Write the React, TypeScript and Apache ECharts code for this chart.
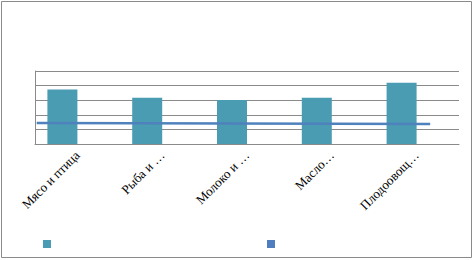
import React, { useEffect, useRef } from "react";
import * as echarts from "echarts";

const categories = ["Мясо и птица", "Рыба и …", "Молоко и …", "Масло…", "Плодоовощ…"];
const barValues = [3.74, 3.17, 3.01, 3.17, 4.2];
const placeholderValues = [null, null, null, null, null];
const lineX = [0.4, 93.2];
const lineY = [1.44, 1.37];
const yMin = 0;
const yMax = 5;
const yInterval = 1;

export default function App() {
  const ref = useRef<HTMLDivElement>(null);
  useEffect(() => {
    document.body.style.margin = "0";
    const chart = echarts.init(ref.current!, null, { renderer: "svg" });
    chart.setOption({
      animation: false,
      backgroundColor: "#ffffff",
      graphic: [
        {
          type: "rect",
          shape: { x: 1.5, y: 1.5, width: 470, height: 256 },
          style: { fill: "none", stroke: "#8a8a8a", lineWidth: 1 },
          silent: true,
        },
      ],
      grid: { left: 35, right: 14, top: 71, bottom: 116 },
      legend: [
        {
          left: 43,
          top: 240,
          padding: 0,
          icon: "rect",
          itemWidth: 8,
          itemHeight: 8,
          data: ["Ряд 1"],
          formatter: () => "",
          selectedMode: false,
        },
        {
          left: 267,
          top: 240,
          padding: 0,
          icon: "rect",
          itemWidth: 8,
          itemHeight: 8,
          data: ["Ряд 2"],
          formatter: () => "",
          selectedMode: false,
        },
      ],
      xAxis: [
        {
          type: "category",
          data: categories,
          axisLine: { show: true, lineStyle: { color: "#8a8a8a", width: 1 } },
          axisTick: { show: false },
          axisLabel: {
            rotate: 45,
            interval: 0,
            margin: 9,
            fontFamily: "Liberation Serif",
            fontSize: 13,
            color: "#000000",
          },
        },
        {
          type: "value",
          min: 0,
          max: 100,
          show: false,
        },
      ],
      yAxis: {
        type: "value",
        min: yMin,
        max: yMax,
        interval: yInterval,
        axisLine: { show: true, lineStyle: { color: "#8a8a8a", width: 1 } },
        axisTick: { show: false },
        axisLabel: { show: false },
        splitLine: { show: true, lineStyle: { color: "#8a8a8a", width: 1 } },
      },
      series: [
        {
          name: "Ряд 1",
          type: "bar",
          data: barValues,
          barWidth: 30,
          barGap: "0%",
          itemStyle: { color: "#4A9CB3" },
        },
        {
          name: "placeholder",
          type: "bar",
          data: placeholderValues,
          barWidth: 30,
          barGap: "0%",
        },
        {
          name: "Ряд 2",
          type: "line",
          xAxisIndex: 1,
          data: lineX.map((x, i) => [x, lineY[i]]),
          showSymbol: false,
          lineStyle: { color: "#4F81BD", width: 2.5 },
          itemStyle: { color: "#4F7DC0" },
        },
      ],
    });
    return () => chart.dispose();
  }, []);
  return <div ref={ref} style={{ position: "absolute", left: 0, top: 0, width: 473, height: 260 }} />;
}
